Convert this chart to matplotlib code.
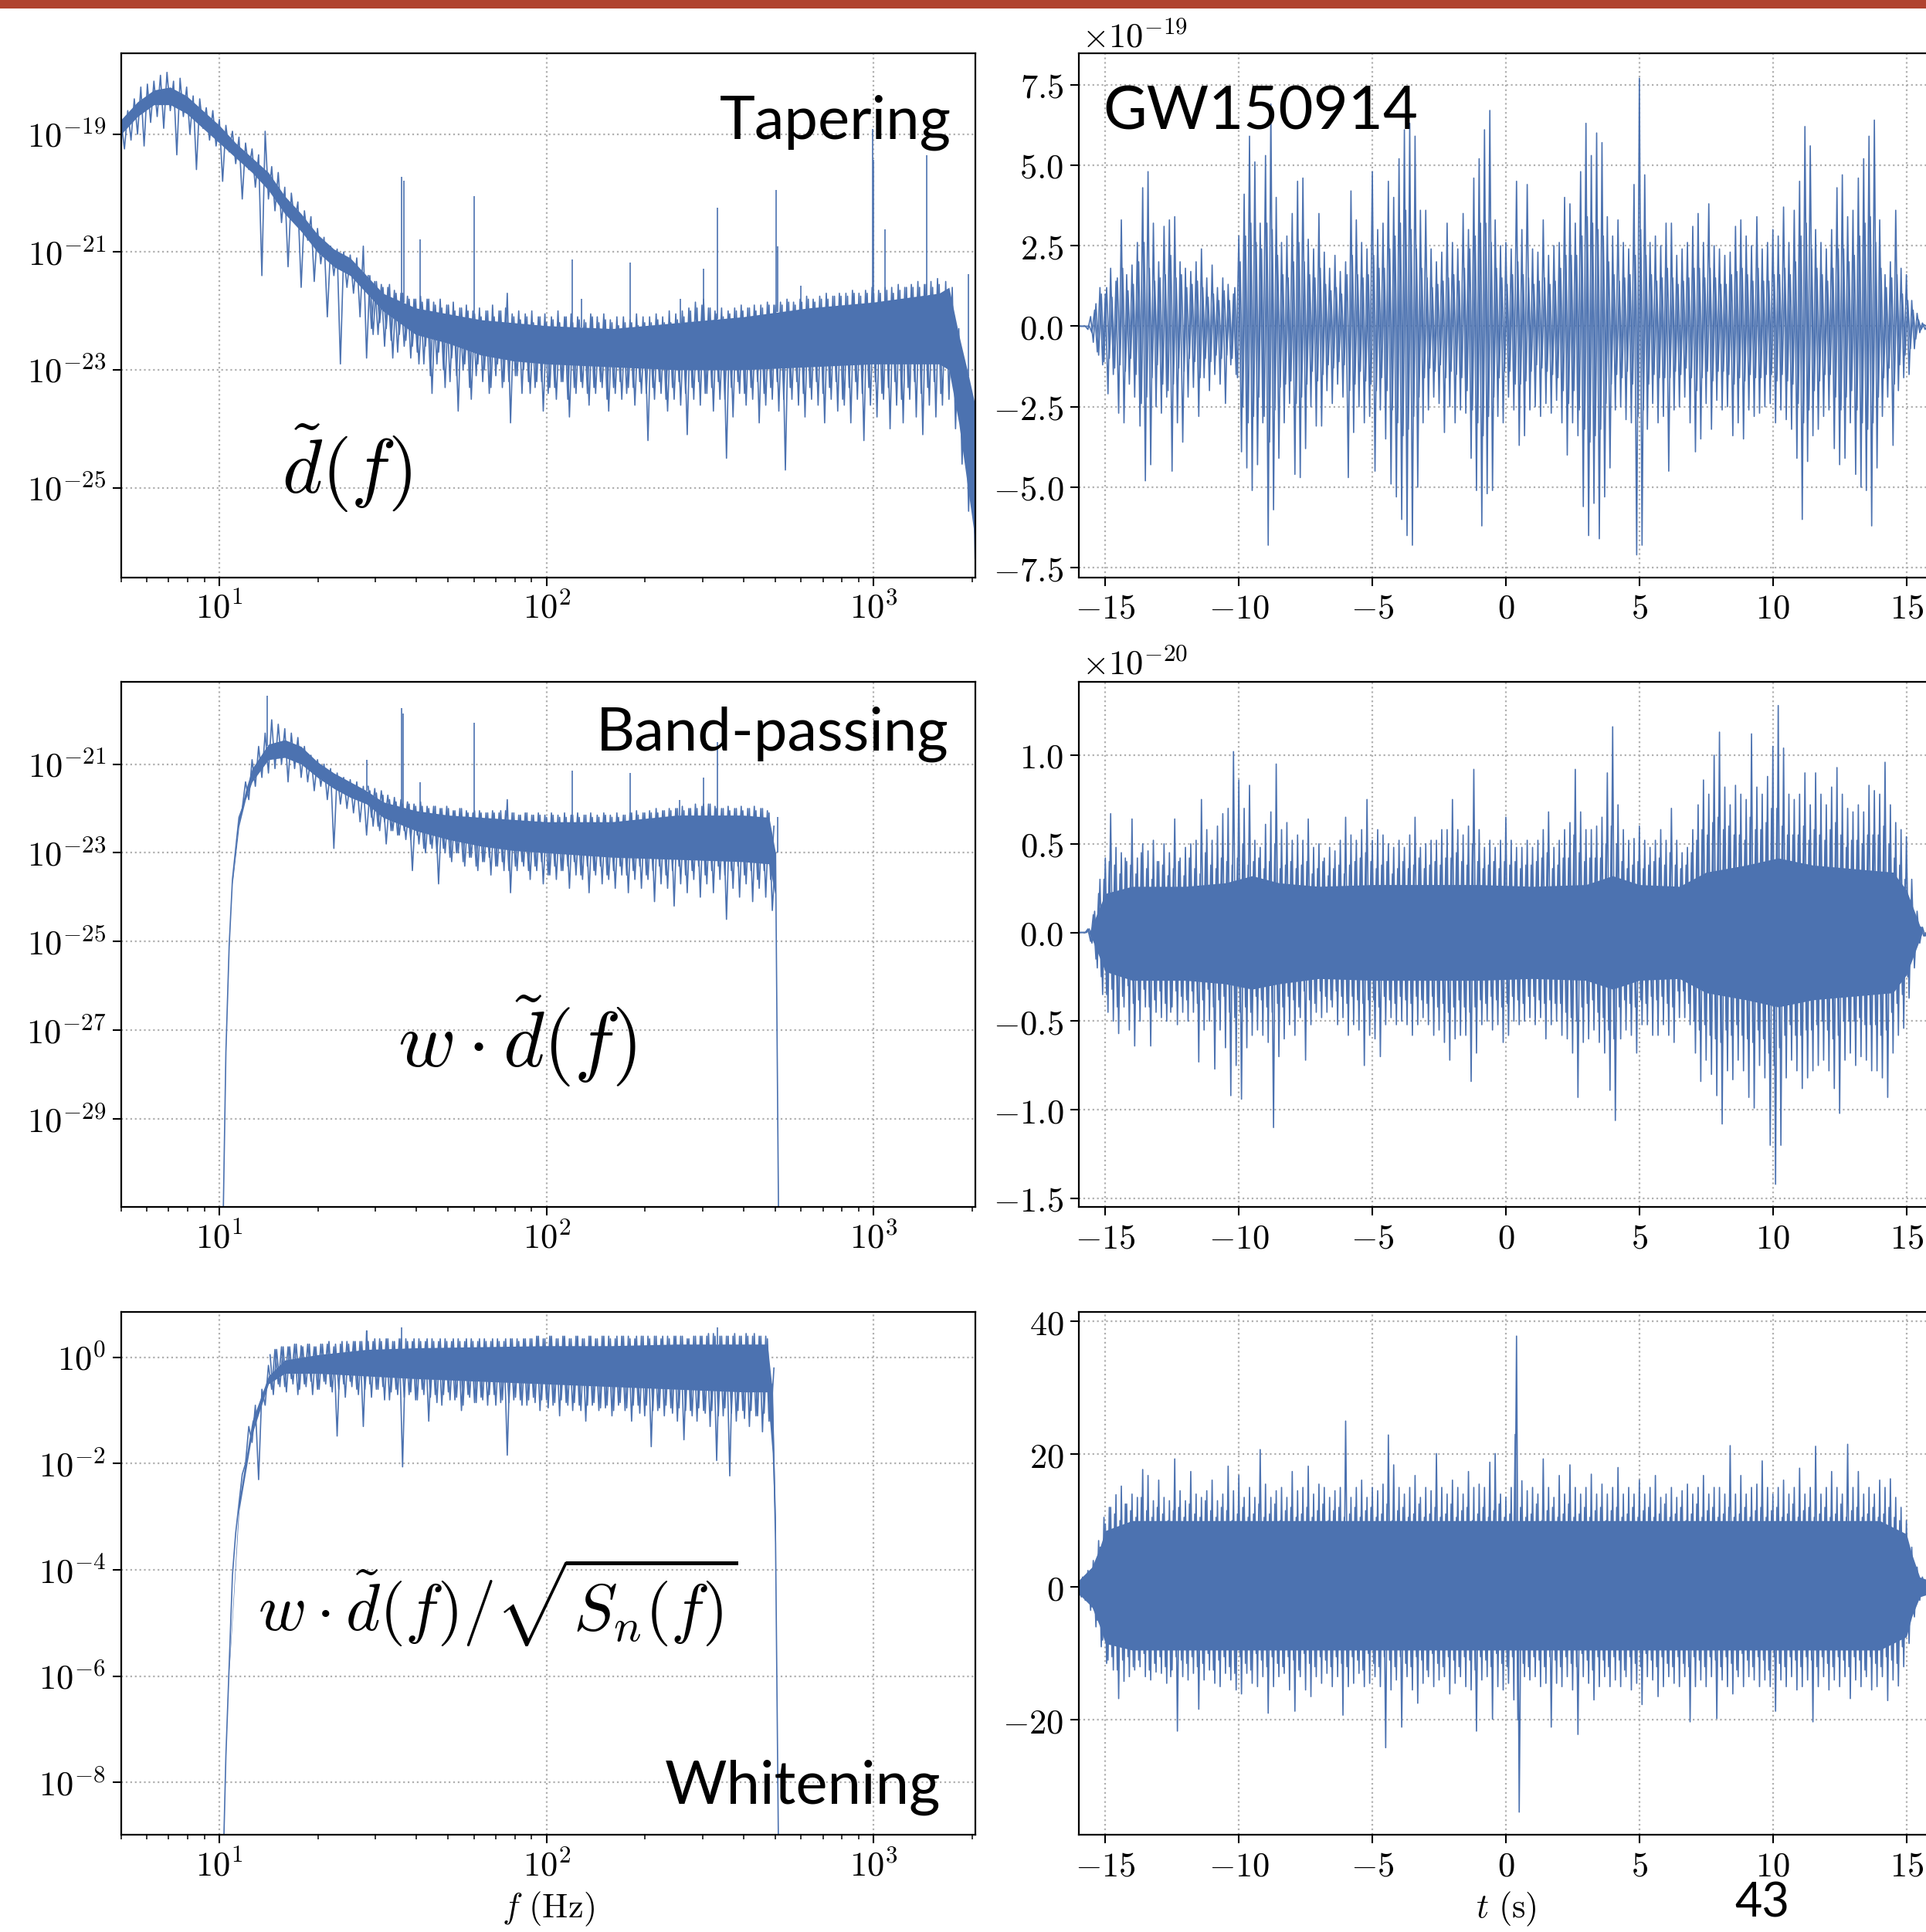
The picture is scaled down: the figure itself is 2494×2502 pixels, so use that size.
import numpy as np
import matplotlib
matplotlib.use('Agg')
import matplotlib.pyplot as plt
from matplotlib.ticker import FixedLocator, FuncFormatter, LogLocator, NullLocator, NullFormatter
from matplotlib.patches import Rectangle

plt.rcParams['mathtext.fontset'] = 'cm'
plt.rcParams['font.family'] = 'DejaVu Sans'

BLUE = '#4c72b0'
LW = 1.2
TICK_FS = 32

# ---------------- frequency domain (log10 of amplitude) ----------------
# tapered spectrum, log10 f from 0.70 to 3.31 in steps of 0.01
tapered_logf = (0.70, 3.31)
tapered_logamp = [
    -18.8, -19.25, -18.6, -19.1, -18.4, -19.0, -18.2, -19.2, -18.15, -18.8,
    -18.1, -18.7, -18.0, -18.9, -17.95, -18.6, -18.1, -19.35, -18.05, -18.7,
    -18.2, -19.0, -18.35, -19.6, -18.4, -18.9, -18.55, -19.1, -18.6, -19.2,
    -18.75, -19.8, -18.85, -19.3, -18.95, -19.5, -19.05, -20.1, -19.15, -19.6,
    -19.25, -19.9, -19.35, -21.4, -18.95, -20.1, -19.55, -20.3, -19.65, -20.5,
    -19.9, -21.25, -20.0, -20.5, -20.15, -21.6, -20.3, -20.8, -20.4, -21.5,
    -20.6, -21.2, -20.75, -22.1, -20.9, -21.4, -20.95, -22.9, -21.0, -21.6,
    -21.05, -21.7, -21.1, -22.1, -20.9, -22.8, -21.4, -22.4, -21.5, -22.2,
    -21.6, -22.3, -21.55, -22.8, -21.7, -22.4, -21.7, -22.5, -21.8, -22.6,
    -21.8, -22.9, -21.85, -22.6, -21.8, -23.4, -21.9, -22.7, -21.95, -23.3,
    -21.9, -22.8, -22.0, -23.7, -21.95, -22.9, -22.0, -23.5, -22.05, -22.9,
    -22.1, -23.0, -22.0, -23.3, -22.1, -22.9, -22.0, -23.2, -21.7, -23.9,
    -22.1, -23.1, -22.15, -23.0, -22.1, -23.4, -22.2, -23.2, -22.1, -23.7,
    -22.2, -23.3, -22.15, -23.5, -22.2, -23.2, -22.1, -23.8, -22.2, -23.4,
    -22.15, -23.3, -22.2, -23.6, -22.1, -23.4, -22.2, -23.3, -22.15, -23.7,
    -22.2, -23.4, -22.25, -23.5, -22.2, -23.3, -22.2, -23.6, -22.25, -23.4,
    -22.2, -24.2, -22.2, -23.5, -22.15, -23.4, -22.2, -23.7, -22.2, -23.5,
    -22.15, -23.6, -22.1, -24.1, -22.0, -23.5, -21.95, -23.6, -21.8, -23.4,
    -21.95, -23.7, -22.05, -23.5, -22.1, -24.5, -22.05, -23.8, -22.0, -23.4,
    -22.0, -23.6, -21.95, -23.5, -22.0, -23.9, -21.95, -23.6, -21.9, -23.5,
    -21.9, -23.7, -21.9, -24.7, -21.85, -23.5, -21.9, -23.6, -21.85, -23.8,
    -21.8, -23.5, -21.85, -23.6, -21.8, -23.9, -21.8, -23.5, -21.75, -23.7,
    -21.75, -23.6, -21.75, -23.9, -21.7, -23.5, -21.75, -24.2, -21.7, -23.6,
    -21.7, -23.8, -21.7, -23.5, -21.65, -24.0, -21.7, -23.6, -21.65, -23.9,
    -21.6, -23.5, -21.6, -23.8, -21.6, -24.1, -21.55, -23.6, -21.6, -23.8,
    -21.55, -23.6, -21.5, -23.5, -21.6, -24.0, -22.3, -24.6, -23.0, -25.4,
    -23.6, -26.2,
]
# in-between bins, log10 f from 1.455 to 3.205
tapered_logf2 = (1.455, 3.205)
tapered_logamp2 = [
    -21.4, -22.3, -21.5, -22.4, -21.55, -22.6, -21.6, -22.5, -21.65, -22.7,
    -21.7, -22.6, -21.75, -22.8, -21.8, -22.7, -21.75, -22.9, -21.8, -23.1,
    -21.85, -22.9, -21.8, -23.0, -21.9, -23.2, -21.85, -23.1, -21.95, -23.0,
    -21.9, -23.3, -22.0, -23.1, -21.95, -23.2, -22.0, -23.4, -21.9, -23.1,
    -22.0, -23.3, -21.95, -23.2, -22.05, -23.1, -22.0, -23.4, -22.05, -23.2,
    -22.0, -23.3, -22.1, -23.2, -22.05, -23.4, -22.1, -23.3, -22.0, -23.2,
    -22.1, -23.5, -22.05, -23.3, -22.1, -23.2, -22.15, -23.4, -22.05, -23.3,
    -22.1, -23.2, -22.05, -23.5, -22.15, -23.3, -22.1, -23.2, -22.1, -23.4,
    -22.15, -23.3, -22.05, -23.2, -22.1, -23.4, -22.1, -23.3, -22.05, -23.2,
    -22.1, -23.5, -22.0, -23.3, -22.05, -23.2, -22.0, -23.4, -21.95, -23.3,
    -21.85, -23.2, -21.9, -23.4, -21.95, -23.3, -22.0, -23.2, -21.95, -23.5,
    -22.0, -23.3, -21.95, -23.2, -21.9, -23.4, -21.95, -23.3, -21.9, -23.2,
    -21.9, -23.4, -21.85, -23.3, -21.9, -23.2, -21.85, -23.5, -21.8, -23.3,
    -21.85, -23.2, -21.8, -23.4, -21.75, -23.3, -21.8, -23.2, -21.75, -23.4,
    -21.7, -23.3, -21.75, -23.2, -21.7, -23.5, -21.7, -23.3, -21.65, -23.2,
    -21.7, -23.4, -21.65, -23.3, -21.6, -23.2, -21.65, -23.4, -21.6, -23.3,
    -21.6, -23.2, -21.55, -23.5, -21.6, -23.3, -21.55, -23.2, -21.5, -23.4,
    -21.55, -23.3, -21.5, -23.2, -21.45, -23.4,
]
tapered_core_logf = [0.70, 0.75, 0.80, 0.85, 0.90, 0.95, 1.00, 1.05, 1.10, 1.15, 1.20, 1.25,
                     1.30, 1.35, 1.40, 1.45, 1.50, 1.60, 1.70, 1.80, 1.90, 2.00, 2.20, 2.40,
                     2.60, 2.80, 3.00, 3.20, 3.23, 3.26, 3.29, 3.31]
tapered_core_hi = [-18.75, -18.45, -18.25, -18.2, -18.35, -18.6, -18.85, -19.15, -19.4, -19.65, -20.05, -20.35,
                   -20.7, -20.95, -21.1, -21.4, -21.7, -21.95, -22.05, -22.15, -22.2, -22.25, -22.3, -22.2,
                   -22.1, -21.95, -21.85, -21.7, -21.6, -22.4, -23.1, -23.6]
tapered_core_lo = [-19.0, -18.7, -18.5, -18.5, -18.65, -18.9, -19.15, -19.4, -19.65, -19.95, -20.35, -20.65,
                   -21.0, -21.25, -21.4, -21.7, -22.0, -22.4, -22.55, -22.75, -22.85, -22.9, -22.95, -23.0,
                   -23.0, -22.95, -22.9, -22.9, -23.0, -23.9, -25.1, -25.9]
tapered_line_f = [36.0, 36.7, 41.0, 60.0, 120.0, 128.0, 180.0, 256.0, 302.0, 332.0, 503.0, 508.0,
                  598.0, 993.0, 1000.0, 1080.0, 1452.0, 1950.0]
tapered_line_top = [-19.73, -19.79, -20.78, -20.05, -21.13, -21.8, -21.18, -21.8, -21.28, -20.25, -19.95, -20.9,
                    -21.57, -18.91, -19.44, -20.62, -19.35, -21.37]

# band-passed spectrum, log10 f from 1.01 to 2.71
bandpass_logf = (1.01, 2.71)
bandpass_logamp = [
    -32.0, -27.5, -25.1, -23.6, -22.9, -22.2, -22.0, -21.4, -21.8, -20.9,
    -21.5, -20.6, -21.3, -20.3, -21.2, -20.0, -21.1, -20.1, -21.0, -20.2,
    -21.4, -20.3, -21.1, -20.4, -21.3, -20.6, -21.4, -20.8, -21.6, -20.9,
    -21.5, -21.0, -21.8, -21.1, -22.9, -21.2, -21.9, -21.3, -22.0, -21.35,
    -22.1, -21.4, -22.3, -21.5, -22.6, -21.6, -22.4, -21.65, -22.5, -21.7,
    -22.8, -21.8, -22.5, -21.85, -22.6, -21.9, -22.7, -21.9, -23.4, -21.95,
    -22.8, -21.95, -23.0, -22.0, -22.9, -21.95, -23.7, -22.0, -23.0, -22.0,
    -23.2, -22.05, -23.0, -22.0, -23.3, -22.1, -23.1, -22.05, -23.4, -22.1,
    -23.2, -22.1, -23.5, -22.1, -23.3, -22.05, -23.4, -21.8, -23.9, -22.1,
    -23.4, -22.15, -23.3, -22.1, -23.6, -22.15, -23.4, -22.15, -23.7, -22.2,
    -23.5, -22.15, -23.6, -22.2, -23.4, -22.2, -23.8, -22.15, -23.5, -22.2,
    -23.6, -22.15, -23.9, -22.2, -23.5, -22.2, -23.7, -22.15, -23.6, -22.2,
    -23.8, -22.2, -23.5, -22.15, -23.9, -22.1, -23.6, -22.15, -23.8, -22.1,
    -23.6, -22.1, -24.1, -22.1, -23.7, -22.05, -23.8, -22.05, -24.2, -22.0,
    -23.7, -22.05, -23.9, -22.0, -23.6, -22.0, -24.0, -21.9, -23.7, -21.9,
    -23.9, -22.0, -23.6, -22.0, -24.5, -22.05, -23.8, -22.0, -24.0, -22.05,
    -23.7, -22.0, -24.1, -22.05, -23.8, -22.0, -24.0, -22.1, -24.3, -23.0,
    -32.0,
]
bandpass_logf2 = (1.455, 2.695)
bandpass_logamp2 = [
    -21.5, -22.2, -21.55, -22.4, -21.6, -22.3, -21.7, -22.5, -21.75, -22.6,
    -21.8, -22.5, -21.85, -22.7, -21.9, -22.6, -21.85, -22.9, -21.95, -22.8,
    -21.95, -23.0, -22.0, -22.9, -21.95, -23.1, -22.05, -23.0, -22.0, -23.2,
    -22.05, -23.1, -22.1, -23.3, -22.05, -23.2, -22.1, -23.1, -22.05, -23.3,
    -22.1, -23.2, -22.05, -23.4, -22.1, -23.3, -22.15, -23.2, -22.1, -23.4,
    -22.15, -23.3, -22.1, -23.2, -22.15, -23.5, -22.1, -23.3, -22.15, -23.4,
    -22.1, -23.3, -22.15, -23.2, -22.1, -23.5, -22.15, -23.3, -22.1, -23.4,
    -22.15, -23.3, -22.1, -23.5, -22.15, -23.4, -22.1, -23.3, -22.15, -23.5,
    -22.1, -23.4, -22.05, -23.3, -22.1, -23.5, -22.05, -23.4, -22.0, -23.3,
    -22.05, -23.5, -22.0, -23.4, -22.0, -23.3, -21.95, -23.5, -22.0, -23.4,
    -21.9, -23.3, -21.95, -23.5, -21.9, -23.4, -21.95, -23.3, -22.0, -23.5,
    -21.95, -23.4, -22.0, -23.3, -21.95, -23.5, -22.0, -23.4, -21.95, -23.6,
    -22.0, -23.4, -22.05, -23.6, -22.4,
]
bandpass_core_logf = [1.04, 1.06, 1.08, 1.10, 1.15, 1.20, 1.25, 1.30, 1.35, 1.40, 1.45, 1.50,
                      1.60, 1.70, 1.80, 1.90, 2.00, 2.20, 2.40, 2.60, 2.68, 2.70]
bandpass_core_hi = [-23.6, -22.2, -21.6, -21.1, -20.55, -20.45, -20.6, -20.95, -21.2, -21.4, -21.6, -21.85,
                    -22.05, -22.15, -22.2, -22.25, -22.3, -22.3, -22.15, -22.15, -22.2, -23.0]
bandpass_core_lo = [-23.7, -22.4, -21.8, -21.4, -20.9, -20.85, -21.0, -21.3, -21.55, -21.75, -21.9, -22.2,
                    -22.5, -22.7, -22.85, -22.95, -23.0, -23.1, -23.15, -23.2, -23.25, -24.0]
bandpass_line_f = [14.0, 28.2, 36.0, 36.5, 41.0, 60.0, 120.0, 180.0, 255.0, 302.0, 332.0, 508.0]
bandpass_line_top = [-19.45, -20.9, -19.73, -19.85, -21.4, -20.06, -21.15, -21.2, -21.8, -21.3, -20.5, -22.2]

# whitened spectrum, log10 f from 1.01 to 2.71
whitened_logf = (1.01, 2.71)
whitened_logamp = [
    -10.0, -7.5, -5.8, -4.1, -3.3, -2.75, -2.2, -2.0, -1.3, -1.6,
    -0.9, -2.3, -0.6, -0.9, -0.15, -0.6, 0.15, -0.5, 0.2, -0.55,
    0.2, -0.4, 0.25, -0.7, 0.22, -0.5, 0.25, -0.45, 0.2, -0.6,
    0.25, -0.45, 0.25, -0.55, 0.2, -1.48, 0.25, -0.5, 0.3, -0.45,
    0.3, -0.6, 0.3, -1.3, 0.5, -0.5, 0.3, -0.6, 0.35, -0.55,
    0.35, -0.8, 0.3, -0.6, 0.35, -2.06, 0.35, -0.7, 0.3, -0.8,
    0.35, -0.6, 0.3, -1.2, 0.35, -0.7, 0.3, -0.9, 0.35, -0.65,
    0.3, -0.8, 0.35, -1.0, 0.3, -0.7, 0.35, -0.85, 0.3, -0.75,
    0.35, -0.9, 0.3, -0.7, 0.35, -0.85, 0.3, -1.84, 0.35, -0.8,
    0.35, -0.8, 0.35, -0.9, 0.35, -0.75, 0.4, -1.0, 0.35, -0.8,
    0.4, -0.9, 0.35, -1.1, 0.4, -0.85, 0.35, -1.0, 0.4, -0.9,
    0.35, -1.2, 0.4, -0.9, 0.35, -1.0, 0.4, -0.95, 0.4, -1.1,
    0.35, -0.9, 0.4, -1.0, 0.4, -1.2, 0.35, -0.9, 0.4, -1.1,
    0.4, -1.68, 0.4, -1.0, 0.35, -1.1, 0.4, -0.95, 0.4, -1.2,
    0.4, -1.55, 0.35, -1.0, 0.4, -1.2, 0.4, -1.0, 0.4, -1.3,
    0.45, -1.94, 0.4, -1.1, 0.4, -2.23, 0.4, -1.2, 0.4, -1.0,
    0.45, -1.3, 0.4, -1.1, 0.4, -1.4, 0.4, -1.2, -0.5, -3.5,
    -10.0,
]
whitened_logf2 = (1.155, 2.695)
whitened_logamp2 = [
    0.05, -0.7, 0.15, -0.55, 0.2, -0.65, 0.2, -0.5, 0.25, -0.6,
    0.2, -0.55, 0.25, -0.7, 0.2, -0.6, 0.25, -0.5, 0.3, -0.65,
    0.25, -0.6, 0.3, -0.75, 0.25, -0.55, 0.3, -0.7, 0.3, -0.6,
    0.3, -0.75, 0.35, -0.6, 0.3, -0.8, 0.35, -0.65, 0.3, -0.7,
    0.35, -0.75, 0.3, -0.65, 0.35, -0.8, 0.3, -0.7, 0.35, -0.75,
    0.3, -0.85, 0.35, -0.7, 0.3, -0.8, 0.35, -0.75, 0.3, -0.9,
    0.35, -0.75, 0.3, -0.85, 0.35, -0.8, 0.3, -0.7, 0.35, -0.9,
    0.3, -0.8, 0.35, -0.85, 0.35, -0.75, 0.3, -0.9, 0.35, -0.8,
    0.35, -0.85, 0.4, -0.8, 0.35, -0.95, 0.4, -0.85, 0.35, -0.8,
    0.4, -0.9, 0.35, -0.85, 0.4, -1.0, 0.35, -0.9, 0.4, -0.85,
    0.35, -0.95, 0.4, -0.9, 0.35, -1.0, 0.4, -0.85, 0.4, -0.95,
    0.35, -0.9, 0.4, -1.05, 0.4, -0.9, 0.35, -1.0, 0.4, -0.95,
    0.4, -0.9, 0.35, -1.05, 0.4, -0.95, 0.4, -1.0, 0.35, -1.1,
    0.4, -0.95, 0.4, -1.05, 0.45, -1.0, 0.4, -1.1, 0.4, -0.95,
    0.4, -1.05, 0.45, -1.0, 0.4, -1.15, 0.4, -1.0, 0.45, -1.1,
    0.4, -1.05, 0.35, -1.2, -0.2,
]
whitened_core_logf = [1.03, 1.06, 1.10, 1.15, 1.20, 1.30, 1.45, 1.60, 1.80, 2.00, 2.20, 2.40,
                      2.60, 2.675, 2.69, 2.70]
whitened_core_hi = [-5.8, -2.7, -1.2, -0.35, -0.05, 0.05, 0.15, 0.18, 0.2, 0.22, 0.22, 0.25,
                    0.25, 0.25, -0.6, -3.0]
whitened_core_lo = [-5.9, -2.9, -1.45, -0.5, -0.3, -0.3, -0.35, -0.4, -0.45, -0.5, -0.55, -0.6,
                    -0.65, -0.65, -1.8, -3.6]
whitened_line_f = [28.2, 36.0, 332.0]
whitened_line_top = [0.5, 0.56, 0.56]

# ---------------- time domain, t from -16 s to 16 s every 0.1 s ----------------
raw_strain = [  # x 1e-19
    0.0, 0.0, 0.0, 0.0, 0.0, -0.2, 0.5, -0.8, 1.2, -1.2,
    1.0, -2.1, 1.8, -1.5, 1.4, -2.7, 3.3, -3.0, 1.6, -1.8,
    1.9, -2.2, 2.6, -3.1, 4.3, -4.8, 4.8, -4.3, 3.2, -2.5,
    2.0, -2.7, 3.1, -2.2, 3.3, -4.5, 3.4, -3.0, 2.0, -3.6,
    1.8, -2.2, 1.7, -1.9, 2.0, -2.8, 2.4, -1.6, 1.5, -2.0,
    1.9, -1.5, 1.2, -1.8, 1.5, -2.4, 1.3, -1.2, 1.0, -1.5,
    2.8, -3.9, 4.1, -4.4, 5.9, -5.1, 5.1, -4.3, 3.2, -3.0,
    5.3, -6.8, 6.9, -5.7, 4.0, -4.1, 2.6, -3.0, 2.8, -2.4,
    3.5, -4.6, 4.5, -4.7, 4.6, -3.8, 2.7, -2.5, 2.4, -3.1,
    3.5, -3.1, 2.3, -2.0, 1.8, -2.4, 2.2, -1.8, 1.7, -2.2,
    2.0, -4.7, 4.2, -3.3, 3.3, -2.5, 2.6, -3.0, 2.4, -2.8,
    4.8, -4.5, 3.0, -2.6, 3.2, -3.5, 4.5, -4.9, 4.0, -5.3,
    5.2, -6.0, 6.1, -6.5, 6.3, -6.8, 5.9, -5.0, 3.6, -3.0,
    3.6, -2.6, 2.4, -2.2, 2.0, -2.4, 2.3, -3.3, 3.2, -2.5,
    2.6, -3.0, 2.4, -2.6, 3.5, -2.7, 3.0, -4.1, 4.6, -5.1,
    5.2, -6.2, 6.1, -5.2, 6.7, -5.1, 3.3, -2.8, 2.5, -3.0,
    2.6, -2.2, 2.4, -2.6, 4.5, -3.7, 3.0, -3.4, 4.4, -2.6,
    2.4, -2.5, 2.3, -2.8, 3.3, -2.4, 2.2, -2.7, 2.5, -2.3,
    2.6, -3.0, 4.0, -4.0, 3.8, -3.0, 3.2, -3.4, 4.8, -5.6,
    6.3, -6.5, 5.3, -5.5, 6.0, -6.6, 5.7, -5.3, 3.4, -4.4,
    2.8, -2.6, 3.3, -2.5, 2.6, -2.9, 2.4, -3.0, 4.4, -7.1,
    7.7, -6.8, 4.7, -3.2, 2.6, -2.4, 2.8, -3.0, 2.5, -2.8,
    3.2, -4.5, 3.2, -2.6, 2.2, -2.5, 2.4, -2.2, 2.6, -3.0,
    3.1, -3.9, 3.5, -3.5, 2.6, -2.4, 3.8, -3.2, 2.5, -2.3,
    2.4, -2.6, 2.2, -2.5, 2.3, -3.4, 3.1, -3.0, 3.3, -3.5,
    2.8, -2.6, 2.5, -2.8, 3.4, -2.7, 2.4, -2.5, 2.6, -2.4,
    3.0, -3.0, 2.8, -2.6, 3.7, -2.9, 2.6, -3.2, 3.6, -4.1,
    4.5, -6.0, 6.2, -4.2, 5.6, -3.4, 3.0, -3.2, 2.6, -2.8,
    2.4, -2.6, 3.0, -3.8, 4.3, -4.3, 4.7, -4.1, 3.4, -3.0,
    3.6, -4.6, 4.6, -5.0, 5.2, -5.1, 5.9, -6.2, 6.4, -4.4,
    3.3, -2.8, 1.6, -2.2, 2.0, -3.7, 3.6, -2.0, 1.8, -1.6,
    1.6, -1.5, 0.8, -0.7, 0.4, -0.2, 0.1, -0.1, 0.05, 0.0,
    0.0,
]
# samples half-way between, t from -15.95 s to 15.95 s
raw_strain2 = [
    0.0, 0.0, 0.0, -0.1, 0.3, -0.5, 0.7, -0.9, 1.0, -1.1,
    1.2, -1.0, 0.9, -1.3, 1.5, -1.2, 1.8, -1.4, 1.1, -1.0,
    1.3, -1.5, 2.0, -2.4, 2.6, -2.2, 1.8, -1.6, 1.4, -1.2,
    1.5, -1.8, 1.6, -2.0, 2.2, -1.8, 1.5, -1.3, 1.6, -1.4,
    1.2, -1.0, 1.3, -1.1, 1.4, -1.6, 1.2, -1.0, 0.9, -1.1,
    1.0, -0.9, 0.8, -1.0, 1.1, -0.9, 0.8, -1.0, 1.2, -1.6,
    2.0, -2.5, 2.8, -3.0, 3.2, -2.8, 2.6, -2.2, 2.4, -2.8,
    3.2, -3.6, 3.0, -2.6, 2.2, -1.9, 1.6, -1.8, 1.5, -1.7,
    2.0, -2.4, 2.6, -2.2, 2.0, -1.8, 1.6, -1.4, 1.5, -1.7,
    1.8, -1.5, 1.3, -1.2, 1.1, -1.3, 1.2, -1.1, 1.0, -1.2,
    1.6, -2.0, 2.2, -1.8, 1.6, -1.4, 1.5, -1.7, 1.6, -1.8,
    2.2, -2.0, 1.8, -1.6, 1.8, -2.0, 2.4, -2.6, 2.8, -3.0,
    3.2, -3.4, 3.6, -3.2, 3.0, -2.8, 2.4, -2.2, 1.8, -1.6,
    1.5, -1.3, 1.2, -1.4, 1.3, -1.2, 1.4, -1.6, 1.5, -1.4,
    1.6, -1.5, 1.4, -1.6, 1.8, -2.0, 2.4, -2.6, 2.8, -3.0,
    3.2, -3.4, 3.2, -2.8, 2.6, -2.2, 1.8, -1.6, 1.5, -1.4,
    1.3, -1.4, 1.6, -1.8, 2.0, -1.8, 1.6, -1.7, 1.5, -1.4,
    1.3, -1.2, 1.4, -1.3, 1.5, -1.4, 1.3, -1.5, 1.4, -1.6,
    1.8, -2.0, 2.2, -2.4, 2.2, -2.0, 2.2, -2.6, 2.8, -3.2,
    3.4, -3.6, 3.2, -3.4, 3.0, -3.2, 2.8, -2.4, 2.0, -1.8,
    1.6, -1.5, 1.4, -1.6, 1.5, -1.4, 1.6, -1.8, 2.2, -2.8,
    3.0, -2.6, 2.2, -1.8, 1.6, -1.5, 1.4, -1.6, 1.5, -1.6,
    1.8, -1.6, 1.5, -1.4, 1.3, -1.5, 1.4, -1.3, 1.5, -1.6,
    1.8, -2.0, 1.8, -1.6, 1.5, -1.4, 1.8, -1.7, 1.5, -1.4,
    1.3, -1.4, 1.3, -1.5, 1.6, -1.8, 1.7, -1.6, 1.8, -1.7,
    1.6, -1.5, 1.4, -1.6, 1.8, -1.6, 1.4, -1.5, 1.4, -1.5,
    1.6, -1.7, 1.6, -1.5, 1.8, -1.7, 1.6, -1.8, 2.0, -2.4,
    2.8, -3.0, 3.2, -2.6, 2.4, -2.0, 1.8, -1.7, 1.6, -1.5,
    1.4, -1.5, 1.8, -2.2, 2.4, -2.6, 2.4, -2.2, 2.0, -2.0,
    2.2, -2.6, 2.8, -3.0, 3.2, -3.2, 3.4, -3.0, 2.6, -2.2,
    1.8, -1.6, 1.2, -1.3, 1.5, -1.8, 1.6, -1.2, 1.0, -0.9,
    0.8, -0.7, 0.5, -0.4, 0.2, -0.1, 0.05, 0.0, 0.0, 0.0,
]

bandpass_strain = [  # x 1e-20
    0.0, 0.0, 0.0, 0.0, 0.02, -0.06, 0.12, -0.2, 0.3, -0.35,
    0.42, -0.45, 0.67, -0.5, 0.48, -0.57, 0.45, -0.42, 0.4, -0.55,
    0.64, -0.64, 0.42, -0.5, 0.5, -0.42, 0.46, -0.64, 0.52, -0.45,
    0.4, -0.48, 0.5, -0.5, 0.45, -0.42, 0.64, -0.52, 0.42, -0.45,
    0.48, -0.5, 0.5, -0.45, 0.52, -0.73, 0.75, -0.55, 0.58, -0.5,
    0.52, -0.77, 0.6, -0.55, 0.67, -0.65, 0.7, -0.92, 1.02, -0.75,
    0.86, -0.94, 0.7, -0.65, 0.83, -0.58, 0.52, -0.55, 0.48, -0.58,
    0.61, -0.62, 0.68, -1.1, 0.95, -0.7, 0.58, -0.6, 0.62, -0.52,
    0.52, -0.58, 0.55, -0.48, 0.52, -0.72, 0.64, -0.52, 0.48, -0.45,
    0.5, -0.48, 0.42, -0.45, 0.48, -0.42, 0.46, -0.52, 0.52, -0.48,
    0.65, -0.58, 0.55, -0.52, 0.52, -0.55, 0.58, -0.75, 0.75, -0.58,
    0.52, -0.6, 0.58, -0.7, 0.55, -0.52, 0.5, -0.48, 0.48, -0.52,
    0.52, -0.5, 0.48, -0.52, 0.55, -0.58, 0.65, -0.52, 0.48, -0.48,
    0.5, -0.52, 0.52, -0.58, 0.52, -0.55, 0.58, -0.62, 0.58, -0.72,
    0.75, -0.6, 0.58, -0.58, 0.55, -0.58, 0.6, -0.84, 0.92, -0.68,
    0.58, -0.52, 0.48, -0.5, 0.52, -0.55, 0.48, -0.52, 0.52, -0.62,
    0.65, -0.58, 0.52, -0.5, 0.48, -0.52, 0.48, -0.5, 0.52, -0.48,
    0.48, -0.52, 0.52, -0.48, 0.58, -0.6, 0.68, -0.52, 0.48, -0.5,
    0.52, -0.58, 0.58, -0.6, 0.62, -0.68, 0.92, -0.93, 0.68, -0.62,
    0.58, -0.6, 0.58, -0.55, 0.6, -0.62, 0.65, -0.68, 0.9, -0.89,
    1.16, -1.06, 0.72, -0.6, 0.58, -0.55, 0.52, -0.58, 0.53, -0.68,
    0.6, -0.52, 0.52, -0.52, 0.48, -0.58, 0.52, -0.58, 0.58, -0.52,
    0.52, -0.58, 0.7, -0.62, 0.52, -0.48, 0.45, -0.48, 0.48, -0.52,
    0.58, -0.68, 0.72, -0.84, 0.86, -0.72, 0.78, -0.8, 1.0, -0.92,
    1.13, -1.08, 0.82, -0.78, 0.72, -0.83, 0.83, -0.72, 0.78, -0.78,
    0.75, -0.93, 1.12, -0.99, 0.82, -0.75, 0.78, -0.82, 0.88, -1.2,
    1.05, -1.42, 1.28, -1.2, 1.04, -0.82, 0.78, -0.72, 0.75, -0.78,
    0.78, -0.88, 0.9, -0.82, 0.72, -0.78, 0.9, -0.75, 0.78, -0.72,
    0.72, -0.78, 0.82, -0.88, 0.93, -1.02, 0.78, -0.72, 0.7, -0.68,
    0.68, -0.75, 0.72, -0.7, 0.68, -0.72, 0.83, -0.78, 0.8, -0.78,
    0.78, -0.82, 0.96, -0.93, 0.72, -0.68, 0.62, -0.58, 0.58, -0.54,
    0.54, -0.37, 0.3, -0.2, 0.12, -0.06, 0.03, -0.02, 0.0, 0.0,
    0.0,
]
bandpass_strain2 = [
    0.0, 0.0, 0.0, 0.02, -0.05, 0.1, -0.15, 0.22, -0.25, 0.3,
    -0.35, 0.4, -0.32, 0.38, -0.42, 0.33, -0.36, 0.42, -0.3, 0.38,
    -0.4, 0.33, -0.38, 0.45, -0.32, 0.36, -0.42, 0.3, -0.38, 0.4,
    -0.33, 0.38, -0.4, 0.32, -0.45, 0.36, -0.33, 0.4, -0.36, 0.32,
    -0.38, 0.42, -0.33, 0.36, -0.4, 0.33, -0.38, 0.45, -0.32, 0.38,
    -0.42, 0.36, -0.38, 0.42, -0.36, 0.4, -0.45, 0.38, -0.48, 0.42,
    -0.45, 0.5, -0.42, 0.38, -0.45, 0.4, -0.36, 0.42, -0.38, 0.36,
    -0.42, 0.4, -0.45, 0.5, -0.4, 0.36, -0.42, 0.38, -0.36, 0.4,
    -0.38, 0.36, -0.42, 0.38, -0.33, 0.4, -0.38, 0.33, -0.4, 0.36,
    -0.33, 0.4, -0.36, 0.32, -0.38, 0.36, -0.33, 0.38, -0.36, 0.33,
    -0.4, 0.38, -0.36, 0.4, -0.38, 0.42, -0.4, 0.45, -0.38, 0.4,
    -0.38, 0.36, -0.42, 0.38, -0.36, 0.4, -0.38, 0.33, -0.4, 0.36,
    -0.36, 0.4, -0.38, 0.36, -0.4, 0.38, -0.36, 0.42, -0.38, 0.36,
    -0.4, 0.38, -0.36, 0.4, -0.42, 0.38, -0.4, 0.42, -0.45, 0.42,
    -0.42, 0.45, -0.38, 0.4, -0.42, 0.38, -0.45, 0.5, -0.42, 0.4,
    -0.38, 0.36, -0.4, 0.38, -0.36, 0.4, -0.38, 0.36, -0.42, 0.4,
    -0.4, 0.38, -0.36, 0.4, -0.38, 0.36, -0.4, 0.38, -0.36, 0.38,
    -0.36, 0.4, -0.38, 0.42, -0.4, 0.45, -0.38, 0.36, -0.4, 0.38,
    -0.4, 0.42, -0.45, 0.42, -0.48, 0.55, -0.5, 0.45, -0.42, 0.4,
    -0.4, 0.42, -0.38, 0.42, -0.45, 0.42, -0.48, 0.5, -0.55, 0.6,
    -0.6, 0.5, -0.42, 0.4, -0.38, 0.36, -0.4, 0.38, -0.42, 0.4,
    -0.38, 0.36, -0.4, 0.38, -0.36, 0.4, -0.38, 0.42, -0.36, 0.38,
    -0.4, 0.45, -0.42, 0.38, -0.33, 0.36, -0.33, 0.38, -0.4, 0.45,
    -0.5, 0.52, -0.55, 0.58, -0.52, 0.55, -0.58, 0.62, -0.6, 0.65,
    -0.62, 0.58, -0.55, 0.6, -0.58, 0.55, -0.52, 0.55, -0.58, 0.52,
    -0.6, 0.65, -0.62, 0.58, -0.55, 0.58, -0.6, 0.62, -0.68, 0.7,
    -0.75, 0.7, -0.65, 0.6, -0.58, 0.55, -0.52, 0.55, -0.58, 0.55,
    -0.58, 0.6, -0.55, 0.52, -0.55, 0.58, -0.52, 0.55, -0.5, 0.52,
    -0.55, 0.58, -0.6, 0.62, -0.58, 0.55, -0.5, 0.48, -0.5, 0.52,
    -0.5, 0.52, -0.48, 0.5, -0.52, 0.55, -0.52, 0.55, -0.52, 0.55,
    -0.58, 0.6, -0.55, 0.5, -0.45, 0.42, -0.4, 0.38, -0.35, 0.3,
    -0.25, 0.18, -0.12, 0.08, -0.05, 0.03, -0.02, 0.0, 0.0, 0.0,
]
bp_strain_core_t = [-15.6, -15.0, -14.0, -12.0, -10.5, -9.5, -8.5, -7.0, -5.0, -3.0, -1.0, 1.0,
                    3.0, 4.0, 5.0, 6.5, 7.5, 9.0, 10.2, 11.5, 13.0, 14.5, 15.0, 15.6]
bp_strain_core_hi = [0.0, 0.22, 0.26, 0.26, 0.28, 0.32, 0.28, 0.26, 0.27, 0.27, 0.27, 0.26,
                     0.27, 0.32, 0.27, 0.26, 0.34, 0.38, 0.42, 0.38, 0.36, 0.34, 0.24, 0.0]
bp_strain_core_lo = [0.0, -0.22, -0.27, -0.27, -0.29, -0.32, -0.29, -0.26, -0.27, -0.27, -0.27, -0.26,
                     -0.27, -0.32, -0.27, -0.26, -0.34, -0.38, -0.42, -0.38, -0.36, -0.34, -0.24, 0.0]

whitened_strain = [
    1.0, -1.5, 1.2, -1.8, 2.0, -3.0, 3.5, -5.0, 6.0, -8.0,
    9.5, -11.0, 12.0, -12.5, 13.9, -16.8, 15.2, -14.2, 12.5, -13.5,
    14.0, -12.5, 13.5, -12.0, 17.7, -13.5, 16.8, -14.0, 13.0, -12.8,
    16.1, -13.0, 13.5, -14.5, 13.0, -12.5, 19.3, -21.7, 14.5, -13.5,
    13.0, -14.0, 17.4, -13.0, 14.0, -18.4, 13.5, -14.0, 14.5, -12.5,
    16.1, -14.5, 13.0, -15.0, 14.0, -13.0, 18.2, -14.0, 14.5, -15.5,
    16.8, -16.1, 13.5, -13.0, 15.0, -14.5, 13.5, -15.0, 20.7, -13.5,
    15.5, -19.0, 13.5, -15.0, 14.5, -13.5, 15.0, -13.0, 13.5, -15.5,
    17.4, -18.7, 14.5, -13.5, 15.0, -15.5, 18.2, -16.5, 14.0, -13.5,
    15.5, -14.5, 15.0, -13.0, 13.5, -15.0, 14.5, -13.5, 15.0, -19.3,
    25.0, -15.0, 13.5, -14.5, 15.0, -13.0, 16.1, -15.0, 13.5, -14.5,
    15.0, -13.5, 14.5, -15.0, 15.5, -24.2, 22.9, -15.5, 18.4, -14.0,
    15.0, -21.1, 14.0, -13.5, 15.0, -15.5, 16.8, -17.5, 13.5, -14.5,
    15.0, -13.5, 14.5, -15.0, 20.1, -14.0, 15.0, -13.5, 14.0, -16.1,
    16.1, -14.5, 15.0, -13.5, 14.0, -15.0, 17.4, -15.5, 15.0, -21.7,
    15.5, -14.0, 15.0, -13.5, 18.8, -19.9, 20.1, -15.0, 14.0, -15.5,
    13.5, -14.5, 15.0, -17.0, 37.8, -33.9, 16.0, -13.5, 14.5, -14.0,
    15.0, -13.5, 14.0, -15.0, 19.3, -14.5, 15.0, -21.1, 13.5, -14.5,
    16.8, -15.0, 14.0, -13.5, 18.4, -15.5, 15.0, -22.2, 14.0, -13.5,
    15.0, -14.5, 17.0, -17.0, 14.0, -15.0, 15.5, -13.5, 14.0, -15.0,
    15.0, -14.0, 18.0, -15.0, 14.0, -13.5, 15.0, -15.5, 14.0, -14.5,
    16.1, -17.7, 14.0, -13.5, 15.0, -14.0, 16.8, -16.5, 13.5, -15.0,
    14.0, -13.5, 15.0, -14.5, 13.5, -15.0, 14.5, -13.5, 15.5, -20.3,
    14.0, -15.0, 15.0, -14.0, 16.8, -15.0, 14.0, -13.5, 15.0, -19.8,
    15.0, -14.0, 14.0, -15.0, 21.3, -16.1, 14.0, -13.5, 16.8, -15.0,
    14.0, -13.5, 15.0, -14.0, 15.5, -15.0, 19.0, -14.0, 15.0, -15.0,
    14.0, -18.7, 15.0, -14.0, 16.1, -15.0, 14.0, -13.5, 15.0, -15.5,
    17.9, -15.0, 14.0, -14.0, 15.0, -20.3, 21.2, -15.0, 14.0, -13.5,
    15.0, -15.5, 17.4, -14.0, 15.0, -15.0, 14.0, -13.5, 21.5, -16.8,
    15.0, -14.0, 17.4, -15.0, 14.0, -13.5, 15.0, -15.5, 14.0, -15.0,
    16.1, -13.5, 15.0, -17.1, 16.3, -14.0, 13.5, -14.9, 12.0, -12.0,
    10.0, -8.5, 6.0, -4.5, 3.0, -2.0, 1.5, -1.2, 1.0, -1.0,
    0.8,
]
whitened_strain2 = [
    -1.2, 1.5, -2.0, 2.5, -3.5, 4.0, -6.0, 7.0, -9.0, 10.5,
    -11.5, 12.0, -10.5, 11.0, -12.5, 10.0, -11.0, 12.5, -10.5, 11.5,
    -12.0, 10.5, -11.0, 13.5, -10.0, 11.5, -12.5, 10.5, -11.5, 12.0,
    -10.5, 11.0, -12.0, 10.0, -13.5, 11.5, -10.5, 12.0, -11.0, 10.5,
    -11.5, 12.5, -10.5, 11.0, -12.0, 10.5, -11.5, 13.0, -10.0, 11.5,
    -12.5, 10.5, -11.0, 12.0, -10.5, 11.5, -12.0, 10.0, -13.0, 11.0,
    -10.5, 12.0, -11.5, 10.5, -12.5, 11.0, -10.0, 12.5, -11.0, 10.5,
    -12.0, 11.0, -10.5, 12.5, -11.5, 10.0, -12.0, 11.5, -10.5, 12.0,
    -11.0, 10.5, -12.5, 11.0, -10.0, 12.0, -11.5, 10.5, -12.0, 11.5,
    -10.5, 12.5, -11.0, 10.0, -12.0, 11.5, -10.5, 12.0, -11.5, 10.5,
    -12.0, 11.0, -10.5, 12.0, -11.0, 10.5, -12.5, 11.5, -10.0, 12.0,
    -11.5, 10.5, -12.0, 11.0, -10.5, 12.5, -11.0, 10.0, -12.0, 11.5,
    -10.5, 12.0, -11.5, 10.5, -12.0, 11.0, -10.5, 12.5, -11.0, 10.5,
    -12.5, 11.0, -10.0, 12.0, -11.5, 10.5, -12.0, 11.0, -10.5, 12.5,
    -11.0, 10.5, -12.0, 11.5, -10.5, 12.0, -11.0, 10.0, -12.5, 11.0,
    -10.5, 12.0, -11.0, 10.5, -12.0, 11.5, -10.0, 12.5, -11.5, 10.5,
    -12.0, 11.0, -10.5, 23.0, -20.0, 12.0, -11.5, 10.5, -12.0, 11.0,
    -10.5, 12.5, -11.0, 10.0, -12.0, 11.5, -10.5, 12.0, -11.0, 10.5,
    -12.0, 11.0, -10.5, 12.5, -11.5, 10.5, -12.0, 11.0, -10.0, 12.0,
    -11.0, 10.5, -12.5, 11.5, -10.5, 12.0, -11.0, 10.0, -12.0, 11.5,
    -10.5, 12.0, -11.0, 10.5, -12.5, 11.0, -10.5, 12.0, -11.5, 10.5,
    -12.0, 11.5, -10.0, 12.0, -11.0, 10.5, -12.0, 11.0, -10.5, 12.5,
    -11.5, 10.5, -12.0, 11.0, -10.5, 12.0, -11.5, 10.0, -12.0, 11.0,
    -10.5, 12.5, -11.0, 10.5, -12.0, 11.5, -10.5, 12.0, -11.0, 10.5,
    -12.0, 11.0, -10.5, 12.0, -11.5, 10.5, -12.5, 11.0, -10.0, 12.0,
    -11.0, 10.5, -12.0, 11.5, -10.5, 12.0, -11.0, 10.5, -12.5, 11.5,
    -10.5, 12.0, -11.5, 10.5, -12.0, 11.0, -10.5, 12.5, -11.0, 10.5,
    -12.0, 11.5, -10.5, 12.0, -11.0, 10.5, -12.0, 11.0, -10.5, 12.0,
    -11.5, 10.5, -12.0, 11.0, -10.5, 12.5, -11.0, 10.5, -12.0, 11.5,
    -10.5, 12.0, -11.0, 10.5, -12.5, 11.0, -10.5, 12.0, -11.5, 10.5,
    -12.0, 11.0, -10.5, 12.0, -11.0, 10.5, -11.5, 10.0, -9.0, 7.5,
    -6.0, 4.5, -3.5, 2.5, -1.8, 1.2, -1.0, 0.8, -0.8, 0.6,
]
wh_strain_core_t = [-16.0, -15.5, -15.2, -15.0, -14.0, 0.0, 14.0, 15.0, 15.2, 15.5, 16.0]
wh_strain_core_hi = [1.0, 3.0, 6.0, 8.5, 10.0, 10.0, 10.0, 8.0, 5.0, 1.5, 0.8]
wh_strain_core_lo = [-1.0, -3.0, -6.0, -8.5, -9.5, -9.5, -9.5, -7.5, -4.5, -1.5, -0.8]

# ticks
freq_ticks = [10, 100, 1000]
tapered_yexp = [-19, -21, -23, -25]
bandpass_yexp = [-21, -23, -25, -27, -29]
whitened_yexp = [0, -2, -4, -6, -8]
time_ticks = [-15, -10, -5, 0, 5, 10, 15]
raw_yticks = [-7.5, -5.0, -2.5, 0.0, 2.5, 5.0, 7.5]
bandpass_yticks = [-1.5, -1.0, -0.5, 0.0, 0.5, 1.0]
whitened_yticks = [-20, 0, 20, 40]

W, H = 2494, 2502
fig = plt.figure(figsize=(W / 100, H / 100), dpi=100)
fig.patch.set_facecolor('white')

rows = [(68.9, 747.5), (883.4, 1563.0), (1699.0, 2376.0)]
left_x = (156.5, 1263.3)
right_x = (1396.7, 2503.2)


def make_axes(xr, yr):
    return fig.add_axes([xr[0] / W, 1 - yr[1] / H, (xr[1] - xr[0]) / W, (yr[1] - yr[0]) / H])


def style(ax):
    ax.set_axisbelow(True)
    ax.grid(True, which='major', ls=':', color='#b0b0b0', lw=1.6)
    for s in ax.spines.values():
        s.set_linewidth(1.6)
    ax.tick_params(which='major', length=8, width=1.5, labelsize=TICK_FS, pad=6)
    ax.tick_params(which='minor', length=4.5, width=1.1)


def spectrum(ax, traces, core_logf, core_hi, core_lo, line_f, line_top, ylim_exp, yexp):
    ax.fill_between(10 ** np.array(core_logf), 10 ** np.array(core_lo), 10 ** np.array(core_hi),
                    color=BLUE, lw=0)
    for logf_range, series in traces:
        f = 10 ** np.linspace(logf_range[0], logf_range[1], len(series))
        ax.plot(f, 10 ** np.array(series), color=BLUE, lw=LW)
    base = np.interp(np.log10(line_f), core_logf, core_hi)
    ax.vlines(line_f, 10 ** base, 10 ** np.array(line_top), color=BLUE, lw=LW)
    ax.set_xscale('log')
    ax.set_yscale('log')
    ax.set_xlim(5, 2048)
    ax.set_ylim(10 ** ylim_exp[0], 10 ** ylim_exp[1])
    ax.xaxis.set_major_locator(FixedLocator(freq_ticks))
    ax.xaxis.set_major_formatter(FuncFormatter(lambda v, p: r'$10^{%d}$' % round(np.log10(v))))
    ax.xaxis.set_minor_locator(LogLocator(base=10, subs=np.arange(2, 10)))
    ax.xaxis.set_minor_formatter(NullFormatter())
    ax.yaxis.set_major_locator(FixedLocator([10.0 ** e for e in yexp]))
    ax.yaxis.set_major_formatter(FuncFormatter(lambda v, p: r'$10^{%d}$' % round(np.log10(v))))
    ax.yaxis.set_minor_locator(NullLocator())
    style(ax)


def timeseries(ax, series, series2, ylim, yticks, fmt, core=None):
    if core is not None:
        ax.fill_between(core[0], core[2], core[1], color=BLUE, lw=0)
    ax.plot(np.linspace(-15.95, 15.95, len(series2)), series2, color=BLUE, lw=LW)
    ax.plot(np.linspace(-16, 16, len(series)), series, color=BLUE, lw=LW)
    ax.set_xlim(-16, 16)
    ax.set_ylim(*ylim)
    ax.xaxis.set_major_locator(FixedLocator(time_ticks))
    ax.xaxis.set_major_formatter(FuncFormatter(lambda v, p: r'$%d$' % v))
    ax.yaxis.set_major_locator(FixedLocator(yticks))
    ax.yaxis.set_major_formatter(FuncFormatter(lambda v, p: r'$%s$' % (fmt % (v + 0.0))))
    style(ax)


ax1 = make_axes(left_x, rows[0])
spectrum(ax1, [(tapered_logf, tapered_logamp), (tapered_logf2, tapered_logamp2)],
         tapered_core_logf, tapered_core_hi, tapered_core_lo,
         tapered_line_f, tapered_line_top, (-26.52, -17.625), tapered_yexp)
ax3 = make_axes(left_x, rows[1])
spectrum(ax3, [(bandpass_logf, bandpass_logamp), (bandpass_logf2, bandpass_logamp2)],
         bandpass_core_logf, bandpass_core_hi, bandpass_core_lo,
         bandpass_line_f, bandpass_line_top, (-30.985, -19.151), bandpass_yexp)
ax5 = make_axes(left_x, rows[2])
spectrum(ax5, [(whitened_logf, whitened_logamp), (whitened_logf2, whitened_logamp2)],
         whitened_core_logf, whitened_core_hi, whitened_core_lo,
         whitened_line_f, whitened_line_top, (-8.984, 0.856), whitened_yexp)

ax2 = make_axes(right_x, rows[0])
timeseries(ax2, raw_strain, raw_strain2, (-7.795, 8.478), raw_yticks, '%.1f')
ax4 = make_axes(right_x, rows[1])
timeseries(ax4, bandpass_strain, bandpass_strain2, (-1.548, 1.412), bandpass_yticks, '%.1f',
           core=(bp_strain_core_t, bp_strain_core_hi, bp_strain_core_lo))
ax6 = make_axes(right_x, rows[2])
timeseries(ax6, whitened_strain, whitened_strain2, (-37.31, 41.44), whitened_yticks, '%d',
           core=(wh_strain_core_t, wh_strain_core_hi, wh_strain_core_lo))

# offset texts
fig.text(1401 / W, 1 - 61 / H, r'$\times10^{-19}$', fontsize=TICK_FS, ha='left', va='baseline')
fig.text(1401 / W, 1 - 874 / H, r'$\times10^{-20}$', fontsize=TICK_FS, ha='left', va='baseline')

# axis labels
fig.text(709.9 / W, 1 - 2472 / H, r'$f\ (\mathrm{Hz})$', fontsize=TICK_FS, ha='center', va='center')
fig.text(1950 / W, 1 - 2472 / H, r'$t\ (\mathrm{s})$', fontsize=TICK_FS, ha='center', va='center')

# panel captions
CAP = dict(family='Lato', fontsize=56, color='black', zorder=20)
fig.text(1232 / W, 1 - 179.6 / H, 'Tapering', ha='right', va='baseline', **CAP)
fig.text(1229 / W, 1 - 971.8 / H, 'Band-passing', ha='right', va='baseline', **CAP)
fig.text(1218 / W, 1 - 2336 / H, 'Whitening', ha='right', va='baseline', **CAP)
fig.text(1428.6 / W, 1 - 167 / H, 'GW150914', ha='left', va='baseline', **CAP)

# formulas
fig.text(449 / W, 1 - 639 / H, r'$\tilde{d}(f)$', fontsize=71, ha='center', va='baseline')
fig.text(669.5 / W, 1 - 1381.6 / H, r'$w\cdot\tilde{d}(f)$', fontsize=73, ha='center', va='baseline')
fig.text(645 / W, 1 - 2112 / H, r'$w\cdot\tilde{d}(f)/\sqrt{S_n(f)}$', fontsize=61, ha='center', va='baseline')

# slide decoration
fig.text(2282 / W, 1 - 2465 / H, '43', family='Lato', fontsize=44, ha='center', va='center')
fig.add_artist(Rectangle((0, 1 - 11 / H), 1, 11 / H, transform=fig.transFigure,
                         facecolor='#b0432f', edgecolor='none', zorder=30))

fig.savefig('out.png', dpi=100)
